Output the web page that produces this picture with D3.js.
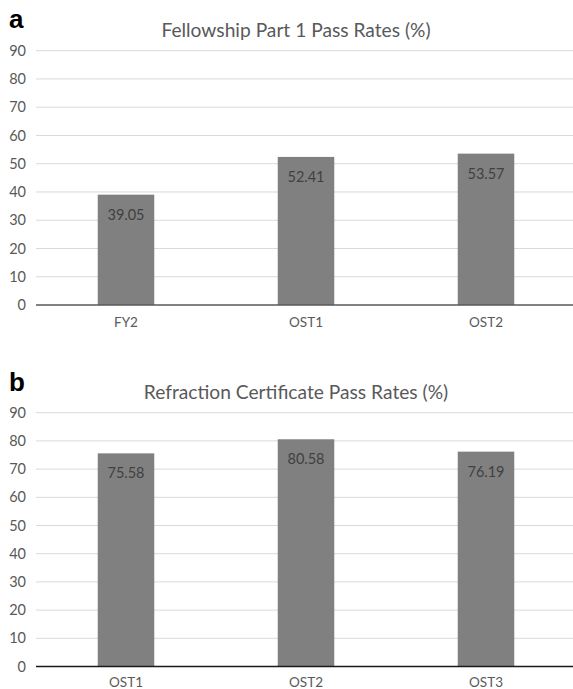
<!DOCTYPE html>
<html>
<head>
<meta charset="utf-8">
<script src="https://cdn.jsdelivr.net/npm/d3@7"></script>
<style>
  html, body { margin: 0; padding: 0; background: #fff; }
  svg { display: block; }
</style>
</head>
<body>
<svg id="chart" width="573" height="689"></svg>
<script>
// ---- Data ----
const tickValues = [0, 10, 20, 30, 40, 50, 60, 70, 80, 90];

const titleA = "Fellowship Part 1 Pass Rates (%)";
const categoriesA = ["FY2", "OST1", "OST2"];
const valuesA = [39.05, 52.41, 53.57];

const titleB = "Refraction Certificate Pass Rates (%)";
const categoriesB = ["OST1", "OST2", "OST3"];
const valuesB = [75.58, 80.58, 76.19];

// ---- Drawing ----
const svg = d3.select("#chart");
const FONT = "Lato, 'Open Sans', sans-serif";

function panel(opts) {
  const { letter, title, categories, values, top, bottom, axisColor, letterY, titleY, catY } = opts;
  const g = svg.append("g");
  const x = d3.scaleBand().domain(categories).range([36, 576]).paddingInner(0.686).paddingOuter(0.343);
  const y = d3.scaleLinear().domain([0, 90]).range([bottom, top]);

  // gridlines
  g.selectAll("line.grid").data(tickValues.filter(d => d > 0)).join("line")
    .attr("class", "grid")
    .attr("x1", 36).attr("x2", 573)
    .attr("y1", d => y(d)).attr("y2", d => y(d))
    .attr("stroke", "#d9d9d9").attr("stroke-width", 1);

  // y axis labels
  const yAxis = d3.axisLeft(y).tickValues(tickValues).tickSize(0).tickPadding(0);
  const ya = g.append("g").attr("transform", "translate(26,0)").call(yAxis);
  ya.select(".domain").remove();
  ya.selectAll("text").attr("font-family", FONT).attr("font-size", 14.5).attr("fill", "#595959");

  // bars
  g.selectAll("rect.bar").data(values).join("rect")
    .attr("class", "bar")
    .attr("x", (d, i) => x(categories[i]))
    .attr("width", x.bandwidth())
    .attr("y", d => y(d))
    .attr("height", d => y(0) - y(d))
    .attr("fill", "#808080");

  // value labels
  g.selectAll("text.val").data(values).join("text")
    .attr("class", "val")
    .attr("x", (d, i) => x(categories[i]) + x.bandwidth() / 2)
    .attr("y", d => y(d) + 25)
    .attr("text-anchor", "middle")
    .attr("font-family", FONT).attr("font-size", 14.5)
    .attr("fill", "#404040")
    .text(d => d.toFixed(2));

  // x axis
  const xAxis = d3.axisBottom(x).tickSize(0).tickPadding(0);
  const xa = g.append("g").attr("transform", `translate(0,${y(0)})`).call(xAxis);
  xa.select(".domain").remove();
  xa.selectAll("text").attr("dy", null).attr("y", catY - y(0))
    .attr("font-family", FONT).attr("font-size", 13.5).attr("fill", "#595959");
  g.append("line").attr("x1", 36).attr("x2", 573).attr("y1", y(0)).attr("y2", y(0))
    .attr("stroke", axisColor).attr("stroke-width", 1.3);

  // title
  g.append("text").attr("x", 296).attr("y", titleY).attr("text-anchor", "middle")
    .attr("font-family", FONT).attr("font-size", 19.2).attr("fill", "#595959").text(title);

  // panel letter
  g.append("text").attr("x", 9).attr("y", letterY)
    .attr("font-family", "'Liberation Sans', Arial, sans-serif").attr("font-weight", "bold")
    .attr("font-size", 26).attr("fill", "#000").text(letter);
}

panel({ letter: "a", title: titleA, categories: categoriesA, values: valuesA,
        top: 50.7, bottom: 305, axisColor: "#595959", letterY: 28, titleY: 36.5, catY: 326.5 });
panel({ letter: "b", title: titleB, categories: categoriesB, values: valuesB,
        top: 412.7, bottom: 666.5, axisColor: "#1a1a1a", letterY: 391, titleY: 398.5, catY: 686.5 });
</script>
</body>
</html>
